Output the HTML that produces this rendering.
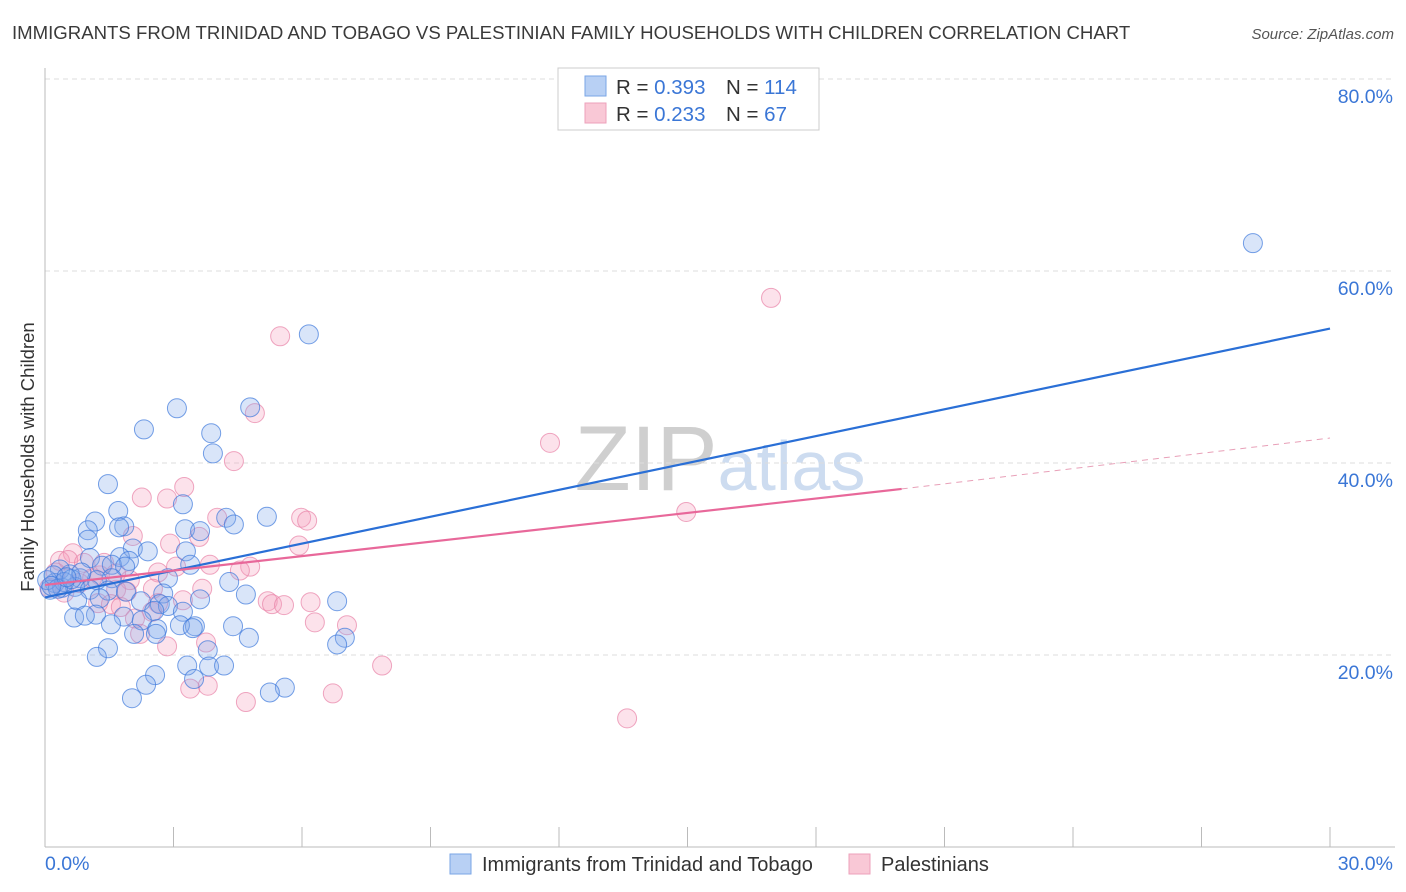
<!DOCTYPE html>
<html><head><meta charset="utf-8">
<style>
body{margin:0;background:#fff;font-family:"Liberation Sans",sans-serif;}
#wrap{position:relative;width:1406px;height:892px;overflow:hidden;}
svg text{font-family:"Liberation Sans",sans-serif;}
</style></head>
<body>
<div id="wrap">
<svg id="chart" width="1406" height="892">
<text x="12" y="39" font-size="18.6" fill="#3a3a3a">IMMIGRANTS FROM TRINIDAD AND TOBAGO VS PALESTINIAN FAMILY HOUSEHOLDS WITH CHILDREN CORRELATION CHART</text>
<text x="1394" y="39" font-size="15" fill="#555" font-style="italic" text-anchor="end">Source: ZipAtlas.com</text>
<text x="34" y="457" font-size="18.5" fill="#333" text-anchor="middle" transform="rotate(-90 34 457)">Family Households with Children</text>
<text x="720" y="490" font-size="92" text-anchor="middle" font-family="Liberation Serif"><tspan fill="#cfcfcf">ZIP</tspan><tspan fill="#cddcf0" font-family="Liberation Sans" font-size="70">atlas</tspan></text>
<g id="grid"></g>
<g id="pts"></g>
<g id="lines"></g>
<g>
<rect x="558" y="68" width="261" height="62" fill="#fff" stroke="#ccc"/>
<rect x="585" y="76" width="21" height="20" fill="#b8d0f4" stroke="#7aa6e6"/>
<rect x="585" y="103" width="21" height="20" fill="#f9c8d6" stroke="#eda1bb"/>
<text x="616" y="94" font-size="20.5" fill="#333">R = <tspan fill="#3a76d6">0.393</tspan></text>
<text x="726" y="94" font-size="20.5" fill="#333">N = <tspan fill="#3a76d6">114</tspan></text>
<text x="616" y="121" font-size="20.5" fill="#333">R = <tspan fill="#3a76d6">0.233</tspan></text>
<text x="726" y="121" font-size="20.5" fill="#333">N = <tspan fill="#3a76d6"> 67</tspan></text>
</g>
<g>
<rect x="450" y="854" width="21" height="20" fill="#b8d0f4" stroke="#7aa6e6"/>
<text x="482" y="871" font-size="20" fill="#333">Immigrants from Trinidad and Tobago</text>
<rect x="849" y="854" width="21" height="20" fill="#f9c8d6" stroke="#eda1bb"/>
<text x="881" y="871" font-size="20" fill="#333">Palestinians</text>
</g>
</svg>
</div>
<script>
const yTicks=[20,40,60,80];
const yTickLabels=["20.0%","40.0%","60.0%","80.0%"];
const xTickLabels=["0.0%","30.0%"];
const blueX=[28.2,6.16,4.79,3.08,2.31,3.88,3.92,1.47,3.22,1.71,5.18,4.23,4.41,1.17,1.85,3.27,3.62,1.0,1.73,1.0,2.05,2.4,3.29,1.75,1.96,1.05,1.33,1.56,3.39,1.87,4.3,2.87,1.56,1.21,0.82,0.58,0.35,0.23,0.12,0.4,0.7,1.05,1.47,1.89,4.69,2.76,1.28,0.75,2.24,3.62,2.68,6.82,2.87,2.55,3.22,1.19,0.68,1.84,0.93,2.26,3.5,3.15,1.54,2.62,4.39,3.45,2.59,2.08,4.76,7.0,6.82,1.47,3.8,1.21,3.32,3.83,4.18,2.57,3.48,2.36,5.6,5.25,2.03,0.05,0.2,0.45,0.3,0.62,0.85,0.15,0.5];
const blueY=[62.9,53.4,45.8,45.7,43.5,43.1,41.0,37.8,35.7,35.0,34.4,34.3,33.6,33.9,33.4,33.1,32.9,33.0,33.3,32.0,31.1,30.8,30.8,30.2,29.8,30.1,29.3,29.4,29.4,29.2,27.6,28.0,28.0,27.8,28.0,28.4,28.9,27.5,26.8,27.0,27.1,26.8,26.7,26.6,26.3,26.4,25.9,25.7,25.6,25.8,25.3,25.6,25.1,24.6,24.5,24.2,23.9,24.0,24.1,23.6,23.0,23.1,23.2,22.7,23.0,22.8,22.2,22.2,21.8,21.8,21.1,20.7,20.5,19.8,18.9,18.8,18.9,17.9,17.5,16.9,16.6,16.1,15.5,27.8,28.3,27.6,26.9,27.9,28.6,27.2,28.1];
const pinkX=[16.95,5.49,4.9,11.79,4.41,3.25,2.26,2.85,14.97,5.98,6.12,4.02,3.6,2.05,2.92,5.93,0.65,0.35,0.54,0.91,3.06,3.85,4.79,2.64,4.55,1.28,1.98,1.66,2.52,3.67,1.91,3.22,5.2,5.3,5.58,6.2,2.64,1.24,1.54,1.77,2.5,6.3,7.05,2.1,2.22,2.85,3.76,7.87,3.39,3.8,6.72,4.69,13.59,1.38,1.66,0.1,0.25,0.8,1.1,0.45];
const pinkY=[57.2,53.2,45.2,42.1,40.2,37.5,36.4,36.3,34.9,34.3,34.0,34.3,32.3,32.4,31.6,31.4,30.6,29.8,29.9,29.6,29.2,29.4,29.2,28.6,28.8,28.3,27.8,26.8,26.9,26.9,26.6,25.7,25.6,25.3,25.2,25.5,25.4,25.4,25.3,25.0,24.5,23.4,23.1,23.8,22.2,20.9,21.3,18.9,16.5,16.8,16.0,15.1,13.4,29.6,28.5,27.0,28.6,27.5,28.0,26.5];
const blueLine=[[0,26.0],[30,54.0]];
const pinkSolid=[[0,27.3],[20,37.3]];
const pinkDash=[[20,37.3],[30,42.6]];

const NS="http://www.w3.org/2000/svg";
const X0=45,X1=1330,Y0=847,YS=9.6;
const xs=v=>X0+v/30*(X1-X0);
const ys=v=>Y0-v*YS;
function mk(tag,attrs,parent){const e=document.createElementNS(NS,tag);for(const k in attrs)e.setAttribute(k,attrs[k]);parent.appendChild(e);return e;}
const grid=document.getElementById('grid');
yTicks.forEach((t,i)=>{
  const l=mk('line',{x1:X0,x2:1395,y1:ys(t),y2:ys(t),stroke:'#ddd','stroke-dasharray':'5,4'},grid);
  
  
  const tx=mk('text',{x:1393,y:ys(t)+24,'font-size':19.5,fill:'#3a76d6','text-anchor':'end'},grid);
  tx.textContent=yTickLabels[i];
  
  
});
const ax=mk('line',{x1:X0,x2:X0,y1:68,y2:Y0,stroke:'#bbb'},grid);


const bx=mk('line',{x1:X0,x2:1395,y1:Y0,y2:Y0,stroke:'#bbb'},grid);


for(let i=0;i<=10;i++){
  const t=mk('line',{x1:xs(i*3),x2:xs(i*3),y1:Y0-20,y2:Y0,stroke:'#bbb'},grid);
  
  
}
[[0,'start',45],[30,'end',1393]].forEach((d,i)=>{
  const t=mk('text',{x:d[2],y:870,'font-size':19.5,fill:'#3a76d6','text-anchor':d[1]},grid);
  t.textContent=xTickLabels[i];
  
  
});
const pts=document.getElementById('pts');
pinkX.forEach((x,i)=>{
  const c=mk('circle',{cx:xs(x),cy:ys(pinkY[i]),r:9.5,fill:'rgba(244,160,188,0.3)',stroke:'rgba(232,130,166,0.7)','stroke-width':1},pts);
  
  
});
blueX.forEach((x,i)=>{
  const c=mk('circle',{cx:xs(x),cy:ys(blueY[i]),r:9.5,fill:'rgba(130,170,235,0.3)',stroke:'rgba(60,120,220,0.7)','stroke-width':1},pts);
  
  
});
const lines=document.getElementById('lines');
function ln(p,col,w,dash,name){
  const l=mk('line',{x1:xs(p[0][0]),y1:ys(p[0][1]),x2:xs(p[1][0]),y2:ys(p[1][1]),stroke:col,'stroke-width':w},lines);
  if(dash)l.setAttribute('stroke-dasharray',dash);
  
  
}
ln(blueLine,'#2a6fd6',2.2,null,'blue-trend-line');
ln(pinkSolid,'#e8689a',2.2,null,'pink-trend-line');
ln(pinkDash,'#e8a0b8',1,'6,5','pink-trend-extension');
</script>
</body></html>
